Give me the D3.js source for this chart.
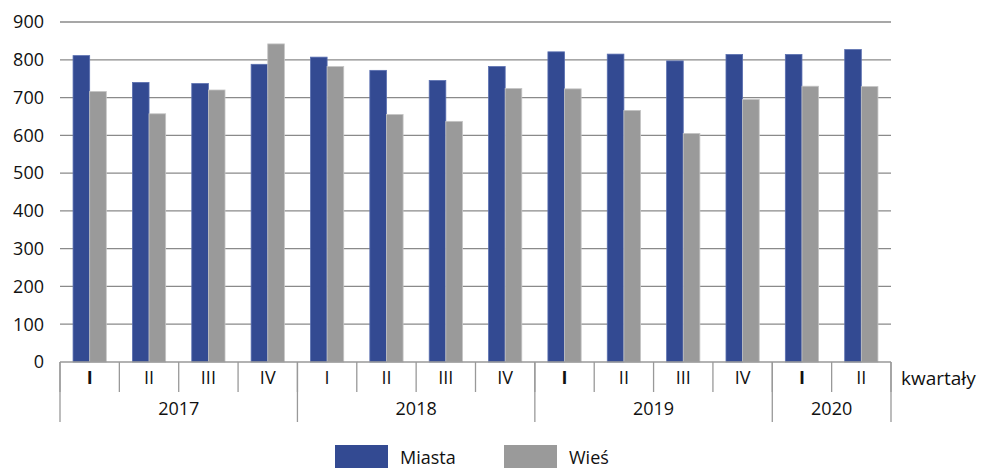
<!DOCTYPE html>
<html>
<head>
<meta charset="utf-8">
<script src="https://cdn.jsdelivr.net/npm/d3@7"></script>
<style>
  body { margin: 0; background: #fff; }
  svg { font-family: 'Open Sans', 'Noto Sans', sans-serif; }
</style>
</head>
<body>
<div id="chart"></div>
<script>
const quarters = ['I', 'II', 'III', 'IV', 'I', 'II', 'III', 'IV', 'I', 'II', 'III', 'IV', 'I', 'II']
const years = ['2017', '2018', '2019', '2020']
const yearSpans = [4, 4, 4, 2]
const miasta = [811, 740, 737, 788, 807, 772, 745, 782, 821, 815, 797, 814, 814, 827]
const wies = [716, 657, 720, 842, 782, 655, 637, 724, 723, 666, 605, 695, 730, 729]
const series = ['Miasta', 'Wieś']
const colors = ['#334a92', '#9a9a9a']
const yTicks = [0, 100, 200, 300, 400, 500, 600, 700, 800, 900]

const width = 985
const height = 468
const margin = { top: 22, right: 94, bottom: 106, left: 60 }
const innerW = width - margin.left - margin.right
const innerH = height - margin.top - margin.bottom

const svg = d3.select('#chart').append('svg')
  .attr('width', width)
  .attr('height', height)

const g = svg.append('g')
  .attr('transform', `translate(${margin.left},${margin.top})`)

const idx = d3.range(quarters.length)
const x = d3.scaleBand().domain(idx).range([0, innerW]).paddingInner(0).paddingOuter(0)
const x1 = d3.scaleBand().domain(series).range([x.bandwidth() * 0.22, x.bandwidth() * 0.78])
const y = d3.scaleLinear().domain([0, 900]).range([innerH, 0])

// gridlines
g.append('g').selectAll('line')
  .data(yTicks.filter(d => d > 0))
  .enter().append('line')
  .attr('x1', 0)
  .attr('x2', innerW)
  .attr('y1', d => y(d))
  .attr('y2', d => y(d))
  .attr('stroke', '#8a8a8a')
  .attr('stroke-width', 1.3)

// y labels
g.append('g').selectAll('text')
  .data(yTicks)
  .enter().append('text')
  .attr('x', -16)
  .attr('y', d => y(d))
  .attr('dy', '0.35em')
  .attr('text-anchor', 'end')
  .attr('font-size', 18)
  .attr('fill', '#111')
  .text(d => d)

// bars
const data = idx.map(i => ({ i, vals: [miasta[i], wies[i]] }))
const grp = g.append('g').selectAll('g')
  .data(data)
  .enter().append('g')
  .attr('transform', d => `translate(${x(d.i)},0)`)

grp.selectAll('rect')
  .data(d => d.vals.map((v, k) => ({ key: series[k], v, k })))
  .enter().append('rect')
  .attr('x', d => x1(d.key))
  .attr('width', x1.bandwidth())
  .attr('y', d => y(d.v))
  .attr('height', d => innerH - y(d.v))
  .attr('fill', d => colors[d.k])
  .attr('stroke', d => d.k === 0 ? '#5a6fb0' : '#c4c4c4')
  .attr('stroke-width', 0.8)

// x axis line
g.append('line')
  .attr('x1', 0).attr('x2', innerW)
  .attr('y1', innerH).attr('y2', innerH)
  .attr('stroke', '#999').attr('stroke-width', 1.3)

// quarter separators
g.append('g').selectAll('line')
  .data(d3.range(quarters.length + 1))
  .enter().append('line')
  .attr('x1', d => d * x.bandwidth())
  .attr('x2', d => d * x.bandwidth())
  .attr('y1', innerH)
  .attr('y2', innerH + 30)
  .attr('stroke', '#999')
  .attr('stroke-width', 1.3)

// year separators
const bounds = [0]
yearSpans.forEach(s => bounds.push(bounds[bounds.length - 1] + s))
g.append('g').selectAll('line')
  .data(bounds)
  .enter().append('line')
  .attr('x1', d => d * x.bandwidth())
  .attr('x2', d => d * x.bandwidth())
  .attr('y1', innerH)
  .attr('y2', innerH + 60)
  .attr('stroke', '#999')
  .attr('stroke-width', 1.3)

// quarter labels
g.append('g').selectAll('text')
  .data(idx)
  .enter().append('text')
  .attr('x', d => x(d) + x.bandwidth() / 2)
  .attr('y', innerH + 16)
  .attr('dy', '0.35em')
  .attr('text-anchor', 'middle')
  .attr('font-size', 18)
  .attr('font-weight', d => (d === 0 || d === 8 || d === 12) ? 700 : 400)
  .attr('fill', '#111')
  .text(d => quarters[d])

// year labels
g.append('g').selectAll('text')
  .data(years)
  .enter().append('text')
  .attr('x', (d, i) => (bounds[i] + bounds[i + 1]) / 2 * x.bandwidth())
  .attr('y', innerH + 47)
  .attr('dy', '0.35em')
  .attr('text-anchor', 'middle')
  .attr('font-size', 18)
  .attr('fill', '#111')
  .text(d => d)

g.append('text')
  .attr('x', innerW + 10)
  .attr('y', innerH + 16)
  .attr('dy', '0.35em')
  .attr('font-size', 19)
  .attr('fill', '#111')
  .text('kwartały')

// legend
const legendX = [335, 504]
const legend = svg.append('g').selectAll('g')
  .data(series)
  .enter().append('g')
  .attr('transform', (d, i) => `translate(${legendX[i]},445)`)

legend.append('rect')
  .attr('width', 53)
  .attr('height', 24)
  .attr('fill', (d, i) => colors[i])

legend.append('text')
  .attr('x', 65)
  .attr('y', 19)
  .attr('font-size', 18)
  .attr('fill', '#111')
  .text(d => d)
</script>
</body>
</html>
